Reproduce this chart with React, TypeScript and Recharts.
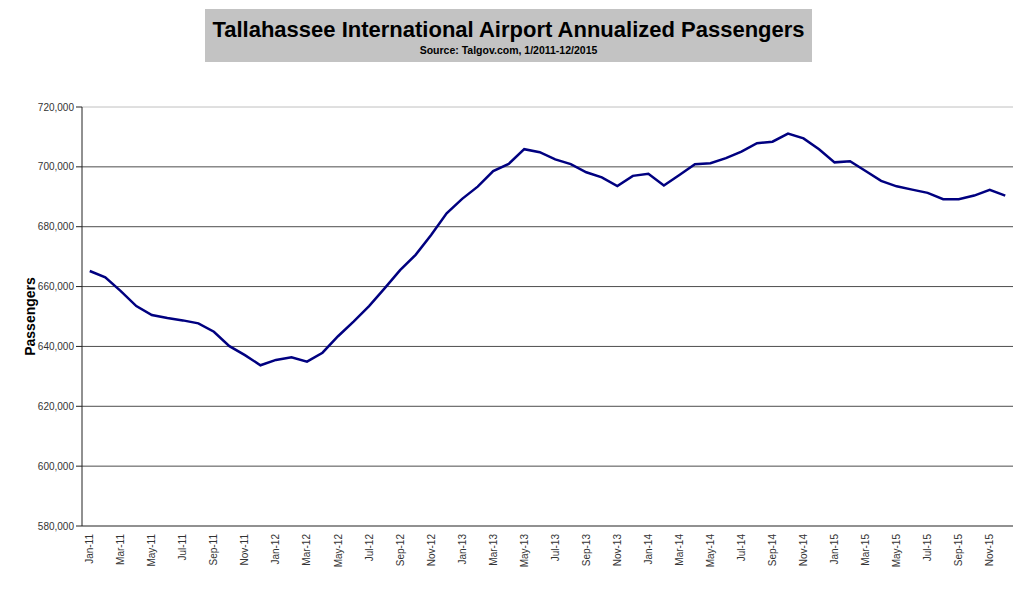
import React from "react";
import {
  LineChart,
  Line,
  XAxis,
  YAxis,
  CartesianGrid,
  ReferenceLine,
} from "recharts";

const monthNames = ["Jan", "Feb", "Mar", "Apr", "May", "Jun", "Jul", "Aug", "Sep", "Oct", "Nov", "Dec"];
const years = ["11", "12", "13", "14", "15"];
const months = years.flatMap((y) => monthNames.map((m) => `${m}-${y}`));

const passengers = [
  665200, 663100, 658500, 653500, 650500, 649500, 648700, 647700, 644900, 640100,
  637100, 633700, 635500, 636400, 634900, 637900, 643400, 648300, 653500, 659400,
  665500, 670600, 677200, 684500, 689300, 693400, 698600, 701000, 705900, 704900,
  702500, 700900, 698200, 696500, 693600, 697000, 697700, 693800, 697300, 700900,
  701200, 702900, 705100, 707900, 708400, 711100, 709500, 705900, 701500, 701900,
  698600, 695300, 693500, 692400, 691300, 689200, 689200, 690400, 692300, 690400,
];

const yTicks = [580000, 600000, 620000, 640000, 660000, 680000, 700000, 720000];
const gridValues = [600000, 620000, 640000, 660000, 680000, 700000];
const boundaryTicks = Array.from({ length: 31 }, (_, i) => i * 2);

const data = months.map((month, i) => ({ month, passengers: passengers[i] }));

const FONT = "Arial, 'Liberation Sans', sans-serif";

function MonthTick(props: any) {
  const { x, y, payload } = props;
  return (
    <g transform={`translate(${x},${y})`}>
      <text
        x={0}
        y={0}
        dy="0.35em"
        transform="rotate(-90)"
        textAnchor="end"
        fontSize={10}
        fontFamily={FONT}
        fill="#333"
      >
        {payload.value}
      </text>
    </g>
  );
}

export default function App() {
  return (
    <div style={{ position: "absolute", left: 0, top: 0, width: 1024, height: 589, background: "#fff" }}>
      <div
        style={{
          position: "absolute",
          left: 205,
          top: 9,
          width: 607,
          height: 53,
          background: "#c3c3c3",
        }}
      >
        <svg width={607} height={53} style={{ display: "block" }}>
          <text
            x={303.5}
            y={28}
            textAnchor="middle"
            fontFamily={FONT}
            fontWeight="bold"
            fontSize={22}
            fill="#000"
          >
            Tallahassee International Airport Annualized Passengers
          </text>
          <text
            x={303.5}
            y={45}
            textAnchor="middle"
            fontFamily={FONT}
            fontWeight="bold"
            fontSize={10.5}
            fill="#000"
          >
            Source: Talgov.com, 1/2011-12/2015
          </text>
        </svg>
      </div>
      <LineChart
        width={1024}
        height={589}
        data={data}
        margin={{ top: 107, right: 11, bottom: 0, left: 0 }}
        style={{ position: "absolute", left: 0, top: 0 }}
      >
        <CartesianGrid
          vertical={false}
          horizontalValues={gridValues}
          stroke="#4d4d4d"
          yAxisId="left"
        />
        <ReferenceLine yAxisId="left" y={720000} stroke="#c0c0c0" />
        <XAxis
          xAxisId="bounds"
          type="number"
          domain={[0, 60]}
          ticks={boundaryTicks}
          allowDataOverflow
          tick={false}
          tickSize={5}
          height={6}
          stroke="#222"
        />
        <XAxis
          xAxisId="main"
          dataKey="month"
          scale="band"
          interval={1}
          tickLine={false}
          axisLine={false}
          tickSize={0}
          tickMargin={2}
          height={57}
          tick={<MonthTick />}
        />
        <YAxis
          yAxisId="left"
          domain={[580000, 720000]}
          ticks={yTicks}
          width={82}
          tickSize={6}
          tickMargin={2}
          stroke="#222"
          tick={{ fontSize: 10, fontFamily: FONT, fill: "#333" }}
          tickFormatter={(v: number) => v.toLocaleString("en-US")}
          label={{
            value: "Passengers",
            angle: -90,
            position: "center",
            dx: -11,
            style: { fontSize: 14, fontWeight: "bold", fontFamily: FONT, fill: "#000" },
          }}
        />
        <YAxis
          yAxisId="right"
          orientation="right"
          domain={[580000, 720000]}
          width={0}
          tick={false}
          tickLine={false}
          stroke="#c0c0c0"
        />
        <Line
          xAxisId="main"
          yAxisId="left"
          type="linear"
          dataKey="passengers"
          stroke="#000080"
          strokeWidth={2.5}
          dot={false}
          isAnimationActive={false}
        />
      </LineChart>
    </div>
  );
}
